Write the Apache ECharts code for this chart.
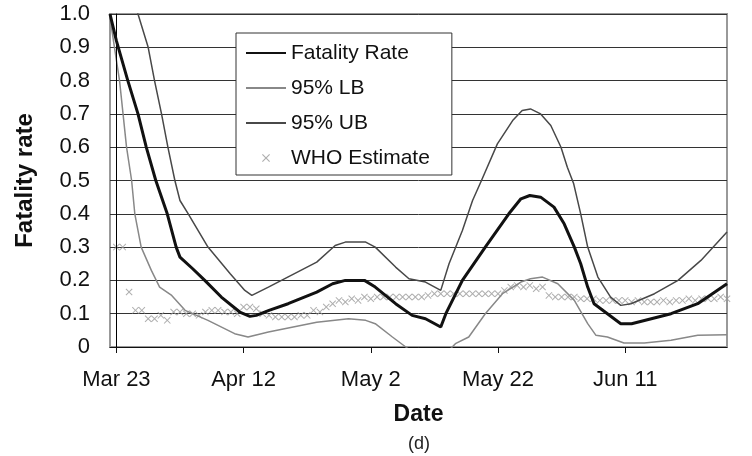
<!DOCTYPE html>
<html>
<head>
<meta charset="utf-8">
<script src="https://cdn.jsdelivr.net/npm/echarts@6/dist/echarts.min.js"></script>
<style>
  html, body { margin: 0; padding: 0; background: #fff; }
  #main { width: 752px; height: 456px; }
</style>
</head>
<body>
<div id="main"></div>
<script>
// x = days since Mar 23
const tickDays = [0, 20, 40, 60, 80];
const tickLabels = ['Mar 23', 'Apr 12', 'May 2', 'May 22', 'Jun 11'];

const fatalityRate = [
  [-1, 1.00], [0, 0.92], [1.8, 0.80], [3.4, 0.70], [4.7, 0.60], [6.2, 0.50],
  [8.0, 0.40], [9.4, 0.30], [10, 0.27], [12, 0.235], [13.9, 0.20], [16.5, 0.15],
  [19.4, 0.105], [21, 0.092], [22, 0.095], [24, 0.11], [27, 0.13], [31.5, 0.165],
  [34, 0.19], [36, 0.20], [39, 0.20], [40.7, 0.18], [43.9, 0.13], [46.5, 0.095],
  [48.6, 0.085], [51, 0.06], [51.8, 0.10], [54.4, 0.20], [58, 0.30], [61.7, 0.40],
  [63.6, 0.445], [65, 0.455], [66.7, 0.45], [68.8, 0.42], [70.4, 0.37], [72, 0.30],
  [73, 0.25], [74.1, 0.18], [75.1, 0.13], [77.2, 0.10], [79.3, 0.07], [81, 0.07],
  [87.2, 0.10], [91.4, 0.13], [96, 0.19]
];

const lowerBound = [
  [-1, 0.99], [-0.3, 0.90], [0.5, 0.80], [1.05, 0.70], [1.6, 0.60], [2.4, 0.50],
  [2.9, 0.40], [3.9, 0.30], [5.5, 0.23], [6.8, 0.18], [8.7, 0.155], [10.8, 0.11],
  [14.4, 0.08], [18.6, 0.04], [20.7, 0.03], [23.9, 0.045], [31.5, 0.074], [36.5, 0.085],
  [39.2, 0.08], [40.7, 0.07], [43.4, 0.03], [45.5, 0.0], [47, -0.02], [49.5, -0.04],
  [51.8, -0.02], [53.3, 0.01], [55.4, 0.03], [58, 0.10], [60.7, 0.16], [63.6, 0.195],
  [65.1, 0.205], [67, 0.21], [69.4, 0.19], [72, 0.14], [74.1, 0.07], [75.4, 0.035],
  [77.2, 0.03], [79.8, 0.012], [83, 0.012], [87.2, 0.02], [91.4, 0.035], [96, 0.037]
];

const upperBound = [
  [-1, 1.40], [1, 1.20], [3.4, 1.00], [5, 0.90], [6, 0.80], [7.1, 0.70], [8.1, 0.60],
  [9.2, 0.50], [10, 0.44], [11.3, 0.40], [14.4, 0.30], [17.9, 0.22], [20.2, 0.17],
  [21.3, 0.155], [23.9, 0.18], [31.5, 0.255], [34.4, 0.305], [36, 0.315], [39.2, 0.315],
  [40.7, 0.30], [43.9, 0.24], [46, 0.205], [48.6, 0.195], [51, 0.17], [52.3, 0.25],
  [54.4, 0.35], [56, 0.44], [57.4, 0.50], [59.9, 0.61], [62.3, 0.68], [63.8, 0.71],
  [65.1, 0.715], [66.7, 0.70], [68.3, 0.665], [69.9, 0.60], [70.9, 0.54], [71.9, 0.49],
  [73, 0.40], [74.1, 0.30], [75.7, 0.21], [77.7, 0.15], [79.3, 0.125], [80.9, 0.13],
  [84.6, 0.16], [88.3, 0.20], [91.9, 0.26], [96, 0.345]
];

// WHO estimate, one value per day from Mar 23
const whoEstimate = [
  0.30, 0.30, 0.165, 0.11, 0.11, 0.085, 0.085, 0.095, 0.08, 0.105,
  0.105, 0.10, 0.10, 0.095, 0.105, 0.11, 0.11, 0.105, 0.105, 0.10,
  0.12, 0.12, 0.115, 0.10, 0.095, 0.09, 0.09, 0.09, 0.09, 0.095,
  0.095, 0.11, 0.105, 0.12, 0.13, 0.14, 0.135, 0.145, 0.14, 0.15,
  0.145, 0.15, 0.15, 0.15, 0.15, 0.15, 0.15, 0.15, 0.15, 0.155,
  0.16, 0.16, 0.16, 0.16, 0.16, 0.16, 0.16, 0.16, 0.16, 0.16,
  0.16, 0.17, 0.18, 0.185, 0.18, 0.185, 0.175, 0.18, 0.155, 0.15,
  0.15, 0.15, 0.15, 0.145, 0.145, 0.145, 0.14, 0.14, 0.14, 0.14,
  0.14, 0.135, 0.14, 0.135, 0.135, 0.135, 0.14, 0.135, 0.14, 0.14,
  0.145, 0.14, 0.145, 0.145, 0.145, 0.15, 0.145
];

const font = 'Liberation Sans, Arial, sans-serif';
const crossPath = 'path://M0,1L1,0L5,4L9,0L10,1L6,5L10,9L9,10L5,6L1,10L0,9L4,5Z';
const noDot = { opacity: 0 };

const chart = echarts.init(document.getElementById('main'));
chart.setOption({
  animation: false,
  textStyle: { fontFamily: font },
  grid: {
    left: 110, right: 25, top: 14, bottom: 109,
    show: true, borderColor: '#999', borderWidth: 2
  },
  legend: {
    left: 236, top: 33,
    orient: 'vertical',
    data: [
      { name: 'Fatality Rate', itemStyle: noDot },
      { name: '95% LB', itemStyle: noDot },
      { name: '95% UB', itemStyle: noDot },
      { name: 'WHO Estimate' }
    ],
    itemWidth: 40, itemHeight: 8, itemGap: 13,
    padding: [9, 22, 6, 9],
    backgroundColor: '#fff', borderColor: '#333', borderWidth: 1,
    textStyle: { fontFamily: font, fontSize: 21, lineHeight: 22, color: '#111' }
  },
  xAxis: {
    type: 'value', min: -1, max: 96,
    name: 'Date', nameLocation: 'middle', nameGap: 56,
    nameTextStyle: { fontFamily: font, fontSize: 23, fontWeight: 'bold', color: '#111' },
    splitLine: { show: false },
    axisLine: { lineStyle: { color: '#111', width: 1 } },
    axisTick: { customValues: tickDays, length: 6, inside: false, lineStyle: { color: '#111' } },
    axisLabel: {
      customValues: tickDays, margin: 22, fontSize: 22, color: '#111',
      formatter: v => tickLabels[tickDays.indexOf(v)]
    }
  },
  yAxis: {
    type: 'value', min: 0, max: 1, interval: 0.1,
    name: 'Fatality rate', nameLocation: 'middle', nameGap: 73,
    nameTextStyle: { fontFamily: font, fontSize: 24, fontWeight: 'bold', color: '#111' },
    axisLine: { show: true, lineStyle: { color: '#111', width: 1 } },
    axisTick: { show: false },
    splitLine: { lineStyle: { color: '#333', width: 1 } },
    axisLabel: {
      margin: 20, fontSize: 22, color: '#111',
      formatter: v => (v === 0 ? '0' : v.toFixed(1))
    }
  },
  graphic: [{
    type: 'text', left: 408, top: 435,
    style: { text: '(d)', fontFamily: font, fontSize: 18, fill: '#222' }
  }],
  series: [
    {
      name: 'Fatality Rate', type: 'line', data: fatalityRate,
      symbol: 'none', clip: true,
      lineStyle: { color: '#111', width: 3 }, itemStyle: { color: '#111' },
      z: 5,
      markLine: {
        silent: true, symbol: ['none', 'none'], label: { show: false },
        lineStyle: { color: '#000', width: 1, type: 'solid' },
        data: [{ xAxis: 0 }]
      }
    },
    {
      name: '95% LB', type: 'line', data: lowerBound,
      symbol: 'none', clip: true,
      lineStyle: { color: '#888', width: 1.5 }, itemStyle: { color: '#888' }
    },
    {
      name: '95% UB', type: 'line', data: upperBound,
      symbol: 'none', clip: true,
      lineStyle: { color: '#484848', width: 1.5 }, itemStyle: { color: '#484848' }
    },
    {
      name: 'WHO Estimate', type: 'scatter',
      data: whoEstimate.map((v, i) => [i, v]),
      symbol: crossPath, symbolSize: 7,
      itemStyle: { color: '#9a9a9a' }
    }
  ]
});
</script>
</body>
</html>
